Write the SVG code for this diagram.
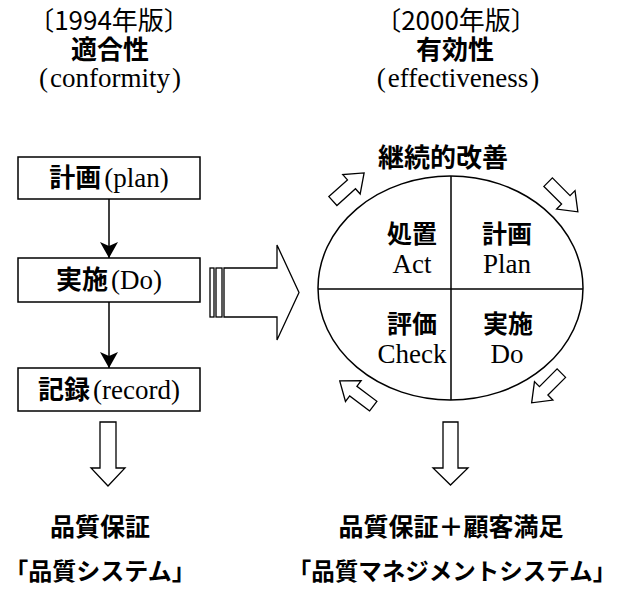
<svg xmlns="http://www.w3.org/2000/svg" width="618" height="594" viewBox="0 0 618 594">
<style>
.jp{font-family:"Noto Sans CJK JP","Noto Sans",sans-serif;font-weight:bold;fill:#000;}
.hd{font-family:"Noto Sans CJK JP","Noto Sans",sans-serif;font-weight:normal;fill:#000;}
.lt{font-family:"Liberation Serif","Noto Sans CJK JP",serif;fill:#000;}
.box{fill:#fff;stroke:#000;stroke-width:1.5;}
.ln{fill:none;stroke:#000;stroke-width:1.5;}
.ho{fill:#fff;stroke:#000;stroke-width:1.3;stroke-linejoin:miter;}
</style>
<defs>
<marker id="ah" viewBox="0 0 16 18" refX="16" refY="9" markerWidth="16" markerHeight="18" orient="auto" markerUnits="userSpaceOnUse">
<path d="M0,0 L16,9 L0,18 L4,9 Z" fill="#000"/>
</marker>
<path id="sa" d="M-21,-6 L4,-6 L4,-13 L21,0 L4,13 L4,6 L-21,6 Z"/>
</defs>
<rect width="618" height="594" fill="#fff"/>

<g id="header-1994" text-anchor="middle">
<text class="hd" x="109" y="30" font-size="26">〔1994年版〕</text>
<text class="jp" x="110" y="59" font-size="26">適合性</text>
<text class="lt" x="110" y="87" font-size="27">(<tspan dx="2">conformity</tspan><tspan dx="2">)</tspan></text>
</g>
<g id="header-2000" text-anchor="middle">
<text class="hd" x="456" y="30" font-size="26">〔2000年版〕</text>
<text class="jp" x="455" y="59" font-size="26">有効性</text>
<text class="lt" x="458" y="87" font-size="27">(<tspan dx="2">effectiveness</tspan><tspan dx="2">)</tspan></text>
</g>

<g id="box-plan">
<rect class="box" x="18" y="157" width="182" height="42"/>
<text x="109" y="187" text-anchor="middle" font-size="26"><tspan class="jp">計画</tspan><tspan class="lt" font-size="27" dx="3">(plan)</tspan></text>
</g>
<g id="box-do">
<rect class="box" x="18" y="258" width="182" height="44"/>
<text x="109" y="289" text-anchor="middle" font-size="26"><tspan class="jp">実施</tspan><tspan class="lt" font-size="27" dx="3">(Do)</tspan></text>
</g>
<g id="box-record">
<rect class="box" x="18" y="368" width="182" height="43"/>
<text x="109" y="399" text-anchor="middle" font-size="26"><tspan class="jp">記録</tspan><tspan class="lt" font-size="27" dx="3">(record)</tspan></text>
</g>

<g id="pdca-cycle">
<ellipse class="ln" cx="450.5" cy="288" rx="132.5" ry="112"/>
<line class="ln" x1="451" y1="176" x2="451" y2="400"/>
<line class="ln" x1="318" y1="289" x2="583" y2="289"/>
<text class="jp" x="443" y="167" text-anchor="middle" font-size="26">継続的改善</text>
<g text-anchor="middle">
<text class="jp" x="412" y="243" font-size="25">処置</text>
<text class="lt" x="412" y="273" font-size="27">Act</text>
<text class="jp" x="507" y="243" font-size="25">計画</text>
<text class="lt" x="507" y="273" font-size="27">Plan</text>
<text class="jp" x="412" y="333" font-size="25">評価</text>
<text class="lt" x="412" y="363" font-size="27">Check</text>
<text class="jp" x="508" y="333" font-size="25">実施</text>
<text class="lt" x="507" y="363" font-size="27">Do</text>
</g>
</g>

<g id="result-left" text-anchor="middle">
<text class="jp" x="100" y="536" font-size="25">品質保証</text>
<text class="jp" x="100" y="580" font-size="24">「品質システム」</text>
</g>
<g id="result-right" text-anchor="middle">
<text class="jp" x="451" y="536" font-size="25">品質保証＋顧客満足</text>
<text class="jp" x="452" y="580" font-size="23.5">「品質マネジメントシステム」</text>
</g>

<g id="connectors">
<line class="ln" x1="109" y1="199" x2="109" y2="258" marker-end="url(#ah)"/>
<line class="ln" x1="109" y1="302" x2="109" y2="368" marker-end="url(#ah)"/>
<path class="ho" d="M100,422 L116,422 L116,468 L125,468 L108,486 L91,468 L100,468 Z"/>
<path class="ho" d="M443,422 L458,422 L458,468 L468,468 L450.5,485 L433,468 L443,468 Z"/>
<rect class="ho" x="210" y="268" width="4" height="49"/>
<rect class="ho" x="216" y="268" width="6" height="49"/>
<path class="ho" d="M224,268 L277,268 L277,245 L299,292.5 L277,340 L277,317 L224,317 Z"/>
<use href="#sa" class="ho" transform="translate(348.5,187) rotate(-42)"/>
<use href="#sa" class="ho" transform="translate(563,197) rotate(45)"/>
<use href="#sa" class="ho" transform="translate(546.5,388) rotate(135)"/>
<use href="#sa" class="ho" transform="translate(356.5,393.5) rotate(-143)"/>
</g>
</svg>
